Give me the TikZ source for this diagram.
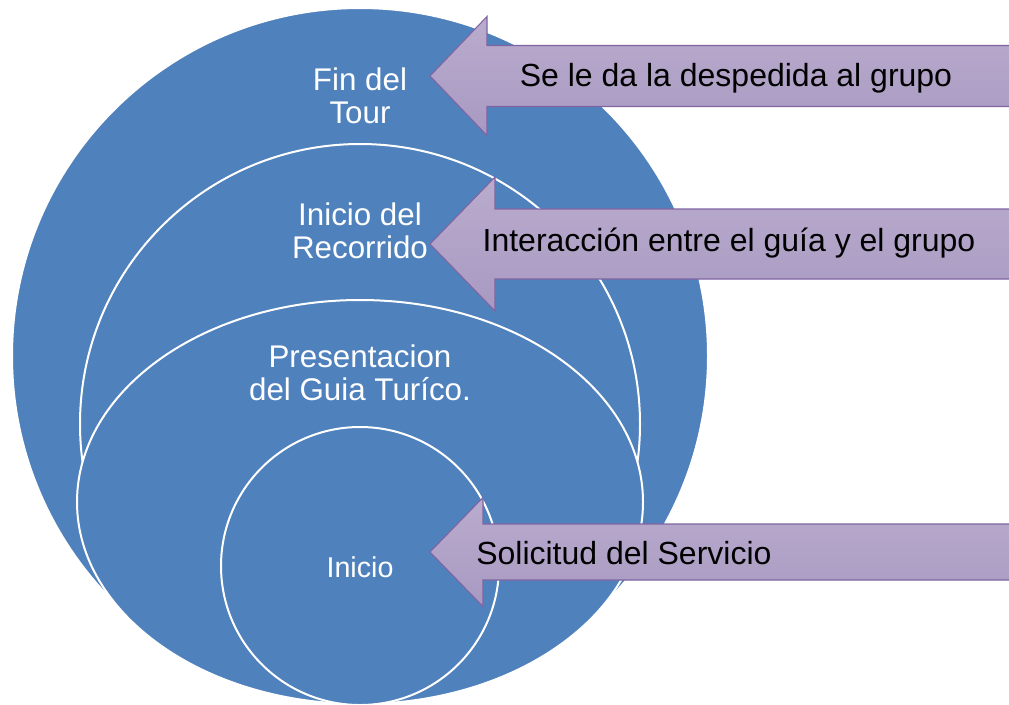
\documentclass[tikz,border=0pt]{standalone}
\usepackage{fontspec}
\setmainfont{Liberation Sans}

\definecolor{ringblue}{RGB}{79,129,189}
\definecolor{bannertop}{RGB}{186,172,205}
\definecolor{bannerbottom}{RGB}{168,153,194}
\definecolor{banneredge}{RGB}{128,100,162}

\tikzstyle{ring} = [fill=ringblue, draw=white, line width=1.5pt]
\tikzstyle{ringtext} = [text=white, align=center, inner sep=0pt, font=\fontsize{23.5}{25}\selectfont]
\tikzstyle{banner} = [draw=banneredge, line width=0.8pt, top color=bannertop, bottom color=bannerbottom]
\tikzstyle{bannertext} = [text=black, inner sep=0pt, font=\fontsize{24}{28}\selectfont]
\newcommand{\pxscale}{0.75pt}

\begin{document}
\begin{tikzpicture}[x=\pxscale, y=-\pxscale]
    \useasboundingbox (0,0) rectangle (1009,704);
    % First we draw the nested rings, outermost first
    \foreach \pos/\rx/\ry in {{(360,356)/348/348}, {(360,424)/280/280}, {(360,502)/283/202}, {(360,566)/139/139}}
        \path[ring] \pos ellipse[x radius=\rx, y radius=\ry];
    % Ring labels
    \node[ringtext] (fin) at (360,96) {Fin del\\Tour};
    \node[ringtext] (recorrido) at (360,231) {Inicio del\\Recorrido};
    \node[ringtext] (presentacion) at (360,373) {Presentacion\\del Guia Turíco.};
    \node[ringtext, font=\fontsize{21.5}{25}\selectfont] (inicio) at (360,567) {Inicio};
    % Then the arrows pointing at the rings
    \foreach \ty/\sh/\hh/\hx in {76/30.5/59.5/487, 244/35/67/495, 552/28/54.5/483}
        \path[banner] (430,\ty) -- (\hx,\ty-\hh) -- (\hx,\ty-\sh) -- (1015,\ty-\sh)
            -- (1015,\ty+\sh) -- (\hx,\ty+\sh) -- (\hx,\ty+\hh) -- cycle;
    % Arrow texts
    \node[bannertext] (despedida) at (736,78) {Se le da la despedida al grupo};
    \node[bannertext] (interaccion) at (729,243) {Interacción entre el guía y el grupo};
    \node[bannertext, anchor=west] (solicitud) at (476,553) {Solicitud del Servicio};
\end{tikzpicture}
\end{document}
